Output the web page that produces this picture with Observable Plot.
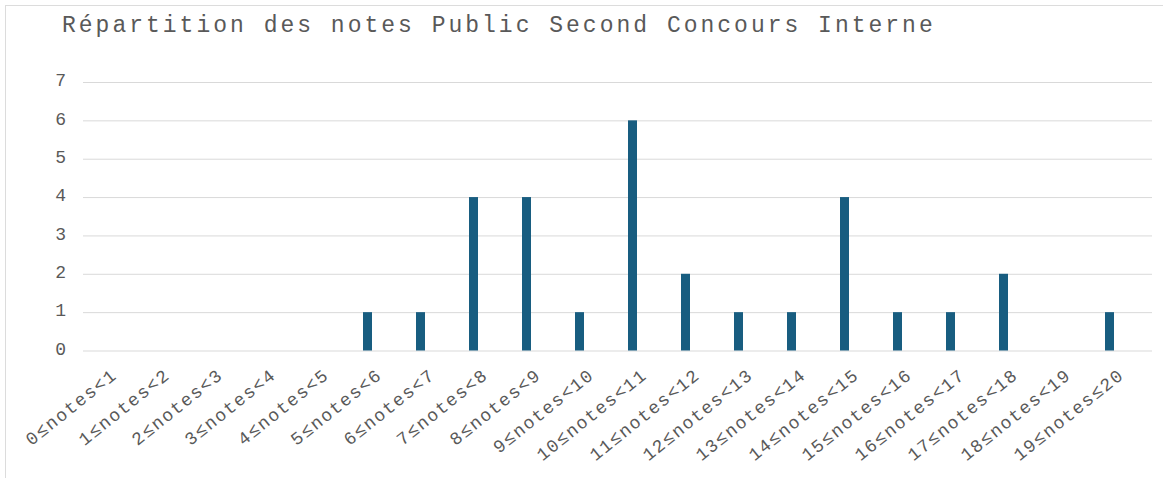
<!DOCTYPE html>
<html>
<head>
<meta charset="utf-8">
<script src="https://cdn.jsdelivr.net/npm/d3@7"></script>
<script src="https://cdn.jsdelivr.net/npm/@observablehq/plot@0.6"></script>
<style>
  body { margin: 0; background: #fff; }
  #wrap { position: relative; width: 1172px; height: 478px; overflow: hidden; background: #fff; }
  #frame { position: absolute; left: 5px; top: 5px; width: 1157px; height: 480px;
           border-left: 1px solid #dcdcdc; border-top: 1px solid #dcdcdc; }
  #title { position: absolute; left: 62px; top: 15px; font: 23px/23px "Liberation Mono", monospace;
           letter-spacing: 3px; color: #595959; white-space: nowrap; }
  #chart { position: absolute; left: 0; top: 60px; }
</style>
</head>
<body>
<div id="wrap">
  <div id="frame"></div>
  <div id="title">Répartition des notes Public Second Concours Interne</div>
  <div id="chart"></div>
</div>
<script>
// Score classes (grade intervals) and number of candidates in each
const categories = [
  "0≤notes<1", "1≤notes<2", "2≤notes<3", "3≤notes<4", "4≤notes<5",
  "5≤notes<6", "6≤notes<7", "7≤notes<8", "8≤notes<9", "9≤notes<10",
  "10≤notes<11", "11≤notes<12", "12≤notes<13", "13≤notes<14", "14≤notes<15",
  "15≤notes<16", "16≤notes<17", "17≤notes<18", "18≤notes<19", "19≤notes≤20"
];
const counts = [0, 0, 0, 0, 0, 1, 1, 4, 4, 1, 6, 2, 1, 1, 4, 1, 1, 2, 0, 1];
const yTicks = [0, 1, 2, 3, 4, 5, 6, 7];

const data = categories.map((classe, i) => ({classe, n: counts[i]}));

const chart = Plot.plot({
  width: 1172,
  height: 418,
  marginLeft: 71,
  marginRight: 32,
  marginTop: 22,
  marginBottom: 127.5,
  style: {
    fontFamily: '"Liberation Mono", monospace',
    fontSize: "18px",
    color: "#595959",
    background: "transparent",
    letterSpacing: "1.5px"
  },
  x: {domain: categories, padding: 0, axis: null},
  y: {domain: [0, 7], axis: null},
  marks: [
    Plot.ruleY(yTicks, {stroke: "#d9d9d9", strokeWidth: 1, dx: 12}),
    Plot.barY(data, {x: "classe", y: "n", fill: "#185d80", insetLeft: 22, insetRight: 22}),
    Plot.axisY(yTicks, {tickSize: 0, tickPadding: 4, fill: "#595959", dy: -2, label: null}),
    Plot.text(data, {
      x: "classe", text: "classe", frameAnchor: "bottom",
      dx: 15, dy: 26, rotate: -38.7, textAnchor: "end", lineAnchor: "bottom",
      fill: "#595959"
    })
  ]
});
document.getElementById("chart").appendChild(chart);
</script>
</body>
</html>
